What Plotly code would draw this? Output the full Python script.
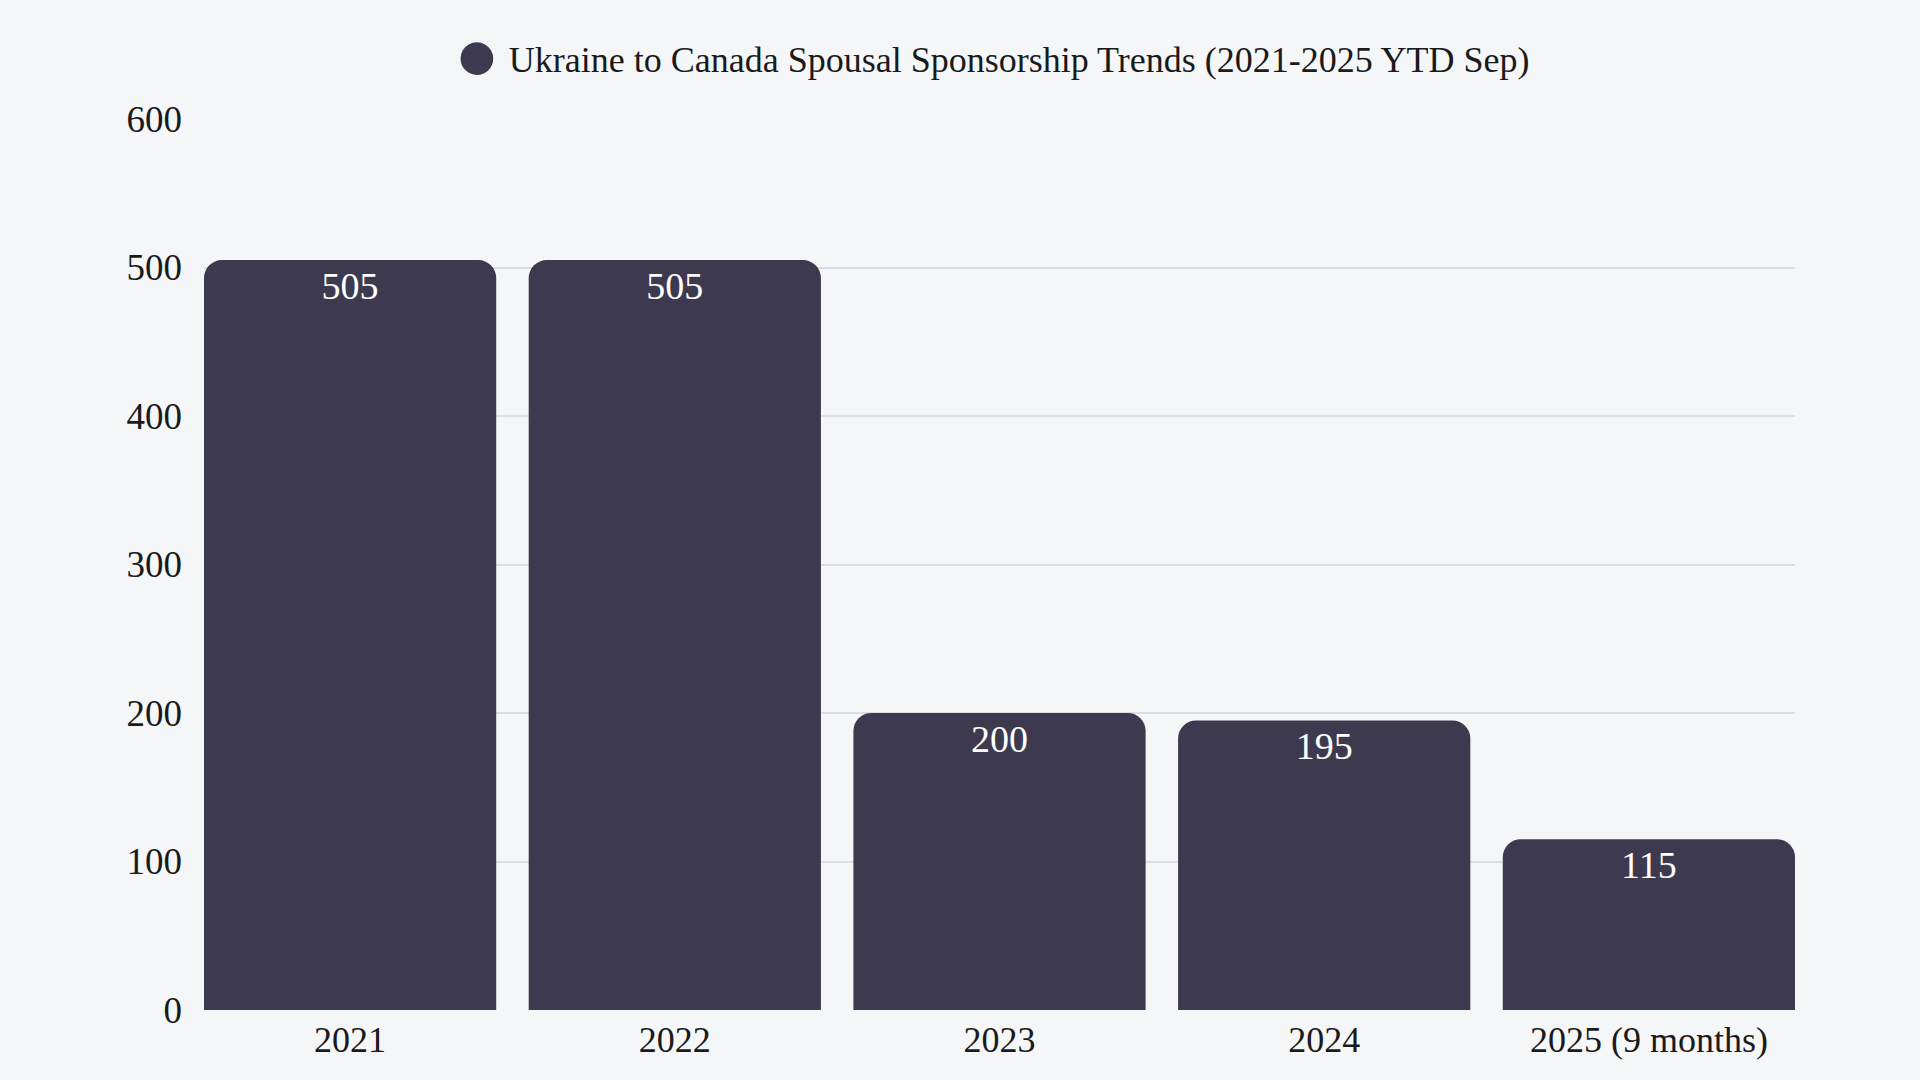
import plotly.graph_objects as go

# Данные
years = ["2021", "2022", "2023", "2024", "2025 (9 months)"]
applications = [505, 505, 200, 195, 115]
series_name = "Ukraine to Canada Spousal Sponsorship Trends (2021-2025 YTD Sep)"
y_ticks = [0, 100, 200, 300, 400, 500, 600]

bar_color = "#3d3a4f"
bg_color = "#f5f6f8"
font_family = "Liberation Serif, Lora, serif"

fig = go.Figure()

# Столбцы
fig.add_trace(go.Bar(
    x=years,
    y=applications,
    name=series_name,
    marker=dict(color=bar_color, cornerradius=18, line=dict(width=0)),
    showlegend=False,
    hoverinfo="x+y",
))

# Подписи значений у верхнего края столбцов (невидимый маркер задаёт отступ)
fig.add_trace(go.Scatter(
    x=years,
    y=applications,
    mode="markers+text",
    marker=dict(size=15, color="rgba(0,0,0,0)"),
    text=[str(v) for v in applications],
    textposition="bottom center",
    textfont=dict(color="#ffffff", size=38, family=font_family),
    showlegend=False,
    hoverinfo="skip",
))

# Заголовок-легенда с круглым маркером (у легенды plotly маркер слишком мелкий)
legend_title = (
    f'<span style="color:{bar_color};font-size:76px;baseline-shift:-8px;">●</span> '
    + series_name
)

fig.update_layout(
    width=1920,
    height=1080,
    paper_bgcolor=bg_color,
    plot_bgcolor=bg_color,
    font=dict(family=font_family, size=36, color="#1a1a1a"),
    margin=dict(l=204, r=125, t=119, b=70),
    bargap=0.1,
    title=dict(
        text=legend_title,
        x=0.5165, xanchor="center", xref="container",
        y=1 - 59 / 1080, yanchor="middle", yref="container",
        font=dict(size=36, color="#1a1a1a"),
    ),
    xaxis=dict(
        range=[-0.45, 4.45],
        showgrid=False,
        showline=False,
        ticks="",
        ticklabelstandoff=5,
        tickfont=dict(size=36),
    ),
    yaxis=dict(
        range=[0, 600],
        tickvals=y_ticks,
        showgrid=True,
        gridcolor="#dcdde2",
        gridwidth=1.5,
        zeroline=False,
        ticks="",
        ticklabelstandoff=21,
        tickfont=dict(size=37),
    ),
)

fig.write_html(
    "out.html",
    config={"displayModeBar": False},
    post_script="document.body.style.margin='0';document.body.style.overflow='hidden';",
)
